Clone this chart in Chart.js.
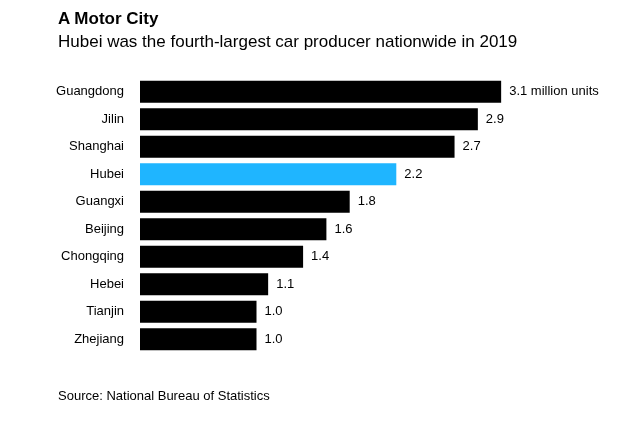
<!DOCTYPE html>
<html><head><meta charset="utf-8">
<script src="https://cdn.jsdelivr.net/npm/chart.js@4"></script>
<style>
body{margin:0;width:640px;height:434px;position:relative;font-family:"Liberation Sans",Arial,sans-serif;background:#fff;}
#t{position:absolute;left:58px;top:9px;font-size:17px;font-weight:bold;}
#s{position:absolute;left:58px;top:32px;font-size:17px;}
#src{position:absolute;left:58px;top:388px;font-size:13px;}
#w{position:absolute;left:0;top:0;width:640px;height:434px;}
</style></head><body>
<div id="w"><canvas id="c"></canvas></div>
<div id="t">A Motor City</div>
<div id="s">Hubei was the fourth-largest car producer nationwide in 2019</div>
<div id="src">Source: National Bureau of Statistics</div>
<script>
const categories=["Guangdong","Jilin","Shanghai","Hubei","Guangxi","Beijing","Chongqing","Hebei","Tianjin","Zhejiang"];
const values=[3.1,2.9,2.7,2.2,1.8,1.6,1.4,1.1,1.0,1.0];
const valueLabels=["3.1 million units","2.9","2.7","2.2","1.8","1.6","1.4","1.1","1.0","1.0"];
const highlight="Hubei";
const labelPlugin={id:"vl",afterDatasetsDraw(chart){
  const ctx=chart.ctx;const meta=chart.getDatasetMeta(0);
  ctx.save();ctx.font='13px "Liberation Sans",Arial,sans-serif';ctx.fillStyle="#000";ctx.textBaseline="middle";
  meta.data.forEach((b,i)=>{ctx.fillText(valueLabels[i],b.x+8,b.y);});
  ctx.restore();}};
new Chart(document.getElementById("c"),{type:"bar",
 data:{labels:categories,datasets:[{data:values,
   backgroundColor:categories.map(c=>c===highlight?"#1fb5ff":"#000"),
   categoryPercentage:0.8,barPercentage:1}]},
 options:{indexAxis:"y",responsive:true,maintainAspectRatio:false,animation:false,
  layout:{padding:{top:78,bottom:81,right:34,left:0}},
  plugins:{legend:{display:false},tooltip:{enabled:false}},
  scales:{x:{display:false,min:0,max:4},
   y:{grid:{display:false},border:{display:false},
      ticks:{color:"#000",padding:8,font:{size:13,family:'"Liberation Sans",Arial,sans-serif'}},
      afterFit(s){s.width=140;}}}},
 plugins:[labelPlugin]});
</script></body></html>
